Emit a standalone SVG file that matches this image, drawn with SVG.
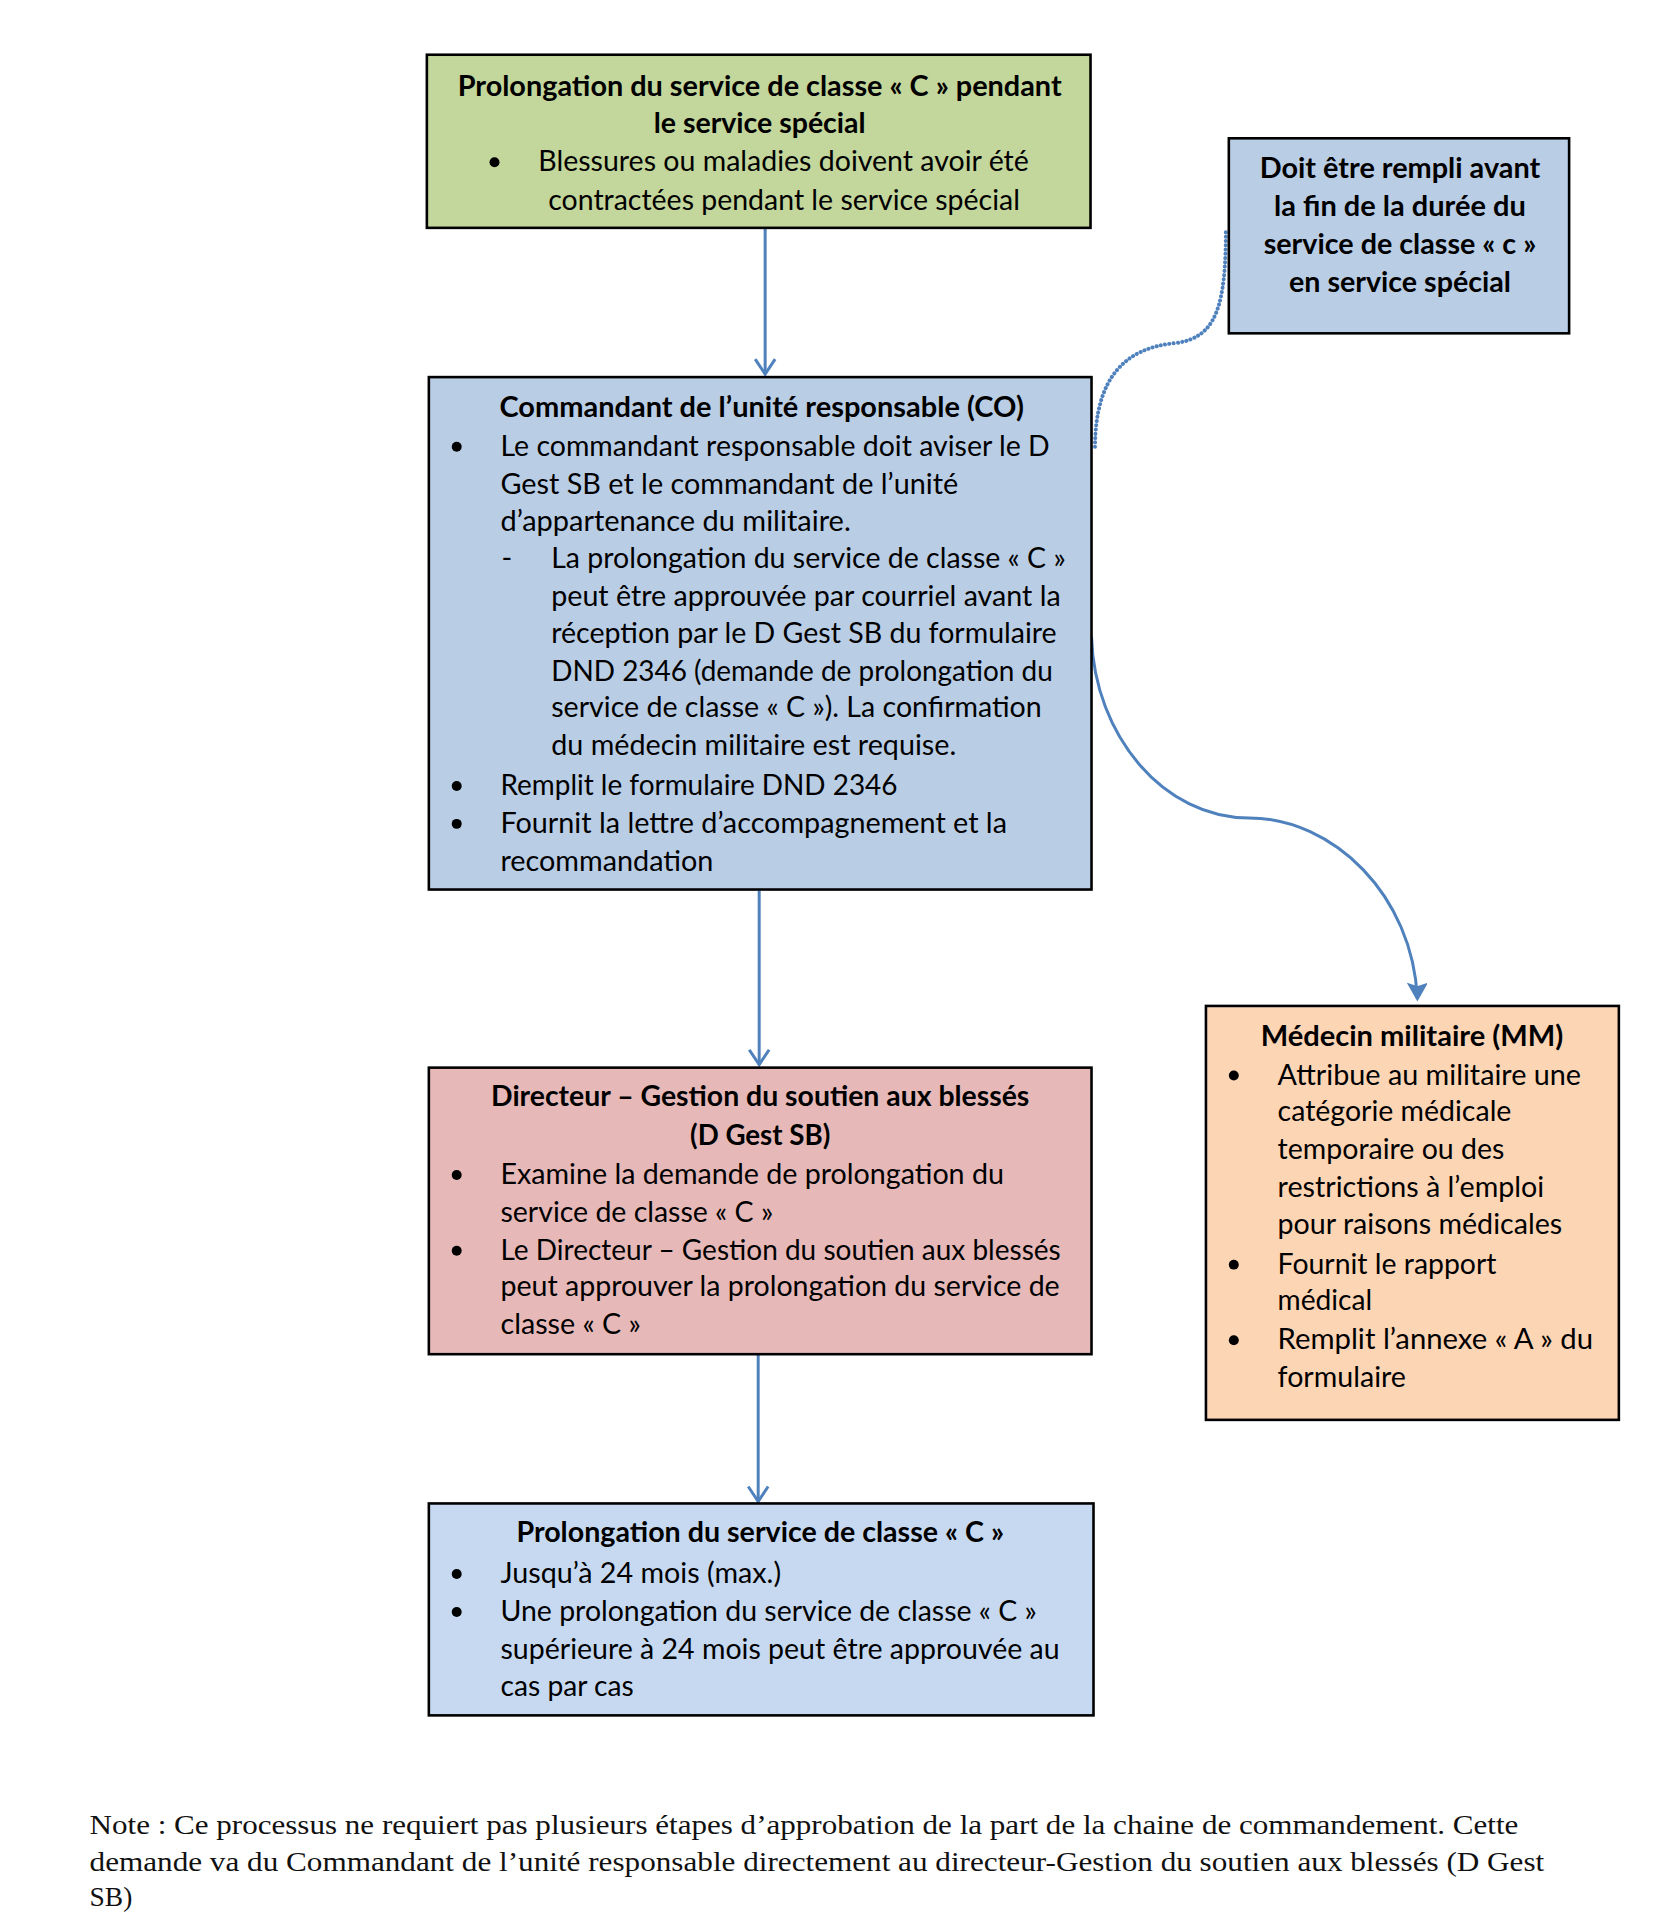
<svg xmlns="http://www.w3.org/2000/svg" width="1661" height="1919" viewBox="0 0 1661 1919">
<style>
.box{stroke:#000;stroke-width:2.6}
.t{font-family:Lato,"Open Sans","Liberation Sans",sans-serif;font-size:29px;fill:#000}
.b{font-weight:bold}
.c{text-anchor:middle}
.note{font-family:"Liberation Serif","DejaVu Serif",serif;font-size:27px;fill:#111}
.conn{fill:none;stroke:#4f81bd;stroke-width:3}
.dot{fill:none;stroke:#4f81bd;stroke-width:4;stroke-dasharray:0.1 4.2;stroke-linecap:round}
</style>
<defs>
<marker id="open" viewBox="0 0 20 24" refX="18" refY="12" markerWidth="20" markerHeight="24" markerUnits="userSpaceOnUse" orient="auto">
<path d="M3,2 L18,12 L3,22" fill="none" stroke="#4f81bd" stroke-width="3" stroke-linejoin="miter"/>
</marker>
<marker id="fill" viewBox="0 0 20 20" refX="10" refY="18" markerWidth="20" markerHeight="20" markerUnits="userSpaceOnUse" orient="0">
<path d="M1,3 L10,19 L19,3 L10,6 Z" fill="#4f81bd" stroke="#4f81bd" stroke-width="1.5"/>
</marker>
</defs>
<rect width="1661" height="1919" fill="#fff"/>
<g transform="scale(0.995)">

<g id="connectors">
<line class="conn" x1="769" y1="229" x2="769" y2="376" marker-end="url(#open)"/>
<line class="conn" x1="763" y1="895" x2="763" y2="1070" marker-end="url(#open)"/>
<line class="conn" x1="762" y1="1361" x2="762" y2="1509" marker-end="url(#open)"/>
<path class="conn" d="M1097,640 C1100,740 1170,822 1255,822 C1340,822 1420,900 1424.5,1004" marker-end="url(#fill)"/>
<path class="dot" d="M1100.5,449 C1101,380 1130,350 1180,345 C1222,340 1232,310 1232,230"/>
</g>

<g id="node-prolongation-special">
<rect class="box" x="429" y="55" width="667" height="174" fill="#c3d69b"/>
<text class="t b c" x="763.5" y="96" textLength="607" lengthAdjust="spacingAndGlyphs">Prolongation du service de classe « C » pendant</text>
<text class="t b c" x="763.5" y="134" textLength="213" lengthAdjust="spacingAndGlyphs">le service spécial</text>
<circle cx="497" cy="163" r="5"/>
<text class="t" x="541" y="172" textLength="493" lengthAdjust="spacingAndGlyphs">Blessures ou maladies doivent avoir été</text>
<text class="t" x="551" y="211" textLength="474" lengthAdjust="spacingAndGlyphs">contractées pendant le service spécial</text>
</g>

<g id="node-delai">
<rect class="box" x="1235" y="139" width="342" height="196" fill="#b9cde5"/>
<text class="t b c" x="1407" y="179" textLength="282" lengthAdjust="spacingAndGlyphs">Doit être rempli avant</text>
<text class="t b c" x="1407" y="217" textLength="253" lengthAdjust="spacingAndGlyphs">la fin de la durée du</text>
<text class="t b c" x="1407" y="255" textLength="274" lengthAdjust="spacingAndGlyphs">service de classe « c »</text>
<text class="t b c" x="1407" y="293" textLength="223" lengthAdjust="spacingAndGlyphs">en service spécial</text>
</g>

<g id="node-co">
<rect class="box" x="431" y="379" width="666" height="515" fill="#b9cde5"/>
<text class="t b" x="502" y="419" textLength="527" lengthAdjust="spacingAndGlyphs">Commandant de l’unité responsable (CO)</text>
<circle cx="459" cy="449" r="5"/>
<text class="t" x="503" y="458" textLength="552" lengthAdjust="spacingAndGlyphs">Le commandant responsable doit aviser le D</text>
<text class="t" x="503" y="496" textLength="460" lengthAdjust="spacingAndGlyphs">Gest SB  et le commandant de l’unité</text>
<text class="t" x="503" y="534" textLength="352" lengthAdjust="spacingAndGlyphs">d’appartenance du militaire.</text>
<text class="t" x="504" y="571">-</text>
<text class="t" x="554" y="571" textLength="517" lengthAdjust="spacingAndGlyphs">La prolongation du service de classe « C »</text>
<text class="t" x="554" y="609" textLength="512" lengthAdjust="spacingAndGlyphs">peut être approuvée par courriel avant la</text>
<text class="t" x="554" y="646" textLength="508" lengthAdjust="spacingAndGlyphs">réception par le D Gest SB  du formulaire</text>
<text class="t" x="554" y="684" textLength="504" lengthAdjust="spacingAndGlyphs">DND 2346 (demande de prolongation du</text>
<text class="t" x="554" y="721" textLength="493" lengthAdjust="spacingAndGlyphs">service de classe « C »). La confirmation</text>
<text class="t" x="554" y="759" textLength="407" lengthAdjust="spacingAndGlyphs">du médecin militaire est requise.</text>
<circle cx="459" cy="790" r="5"/>
<text class="t" x="503" y="799" textLength="399" lengthAdjust="spacingAndGlyphs">Remplit le formulaire DND 2346</text>
<circle cx="459" cy="828" r="5"/>
<text class="t" x="503" y="837" textLength="509" lengthAdjust="spacingAndGlyphs">Fournit la lettre d’accompagnement et la</text>
<text class="t" x="503" y="875" textLength="214" lengthAdjust="spacingAndGlyphs">recommandation</text>
</g>

<g id="node-dgestsb">
<rect class="box" x="431" y="1073" width="666" height="288" fill="#e6b9b8"/>
<text class="t b c" x="764" y="1112" textLength="541" lengthAdjust="spacingAndGlyphs">Directeur – Gestion du soutien aux blessés</text>
<text class="t b c" x="764" y="1151" textLength="141" lengthAdjust="spacingAndGlyphs">(D Gest SB)</text>
<circle cx="459" cy="1181" r="5"/>
<text class="t" x="503" y="1190" textLength="506" lengthAdjust="spacingAndGlyphs">Examine la demande de prolongation du</text>
<text class="t" x="503" y="1228" textLength="274" lengthAdjust="spacingAndGlyphs">service de classe « C »</text>
<circle cx="459" cy="1257" r="5"/>
<text class="t" x="503" y="1266" textLength="563" lengthAdjust="spacingAndGlyphs">Le Directeur – Gestion du soutien aux blessés</text>
<text class="t" x="503" y="1303" textLength="562" lengthAdjust="spacingAndGlyphs">peut approuver la prolongation du service de</text>
<text class="t" x="503" y="1341" textLength="141" lengthAdjust="spacingAndGlyphs">classe « C »</text>
</g>

<g id="node-prolongation">
<rect class="box" x="431" y="1511" width="668" height="213" fill="#c6d9f1"/>
<text class="t b" x="519" y="1550" textLength="490" lengthAdjust="spacingAndGlyphs">Prolongation du service de classe « C »</text>
<circle cx="459" cy="1582" r="5"/>
<text class="t" x="503" y="1591" textLength="282" lengthAdjust="spacingAndGlyphs">Jusqu’à 24 mois (max.)</text>
<circle cx="459" cy="1620" r="5"/>
<text class="t" x="503" y="1629" textLength="539" lengthAdjust="spacingAndGlyphs">Une prolongation du service de classe « C »</text>
<text class="t" x="503" y="1667" textLength="562" lengthAdjust="spacingAndGlyphs">supérieure à 24 mois peut être approuvée au</text>
<text class="t" x="503" y="1705" textLength="134" lengthAdjust="spacingAndGlyphs">cas par cas</text>
</g>

<g id="node-mm">
<rect class="box" x="1212" y="1011" width="415" height="416" fill="#fcd5b5"/>
<text class="t b" x="1267" y="1051" textLength="304" lengthAdjust="spacingAndGlyphs">Médecin militaire (MM)</text>
<circle cx="1240" cy="1081" r="5"/>
<text class="t" x="1284" y="1090" textLength="305" lengthAdjust="spacingAndGlyphs">Attribue au militaire une</text>
<text class="t" x="1284" y="1127" textLength="235" lengthAdjust="spacingAndGlyphs">catégorie médicale</text>
<text class="t" x="1284" y="1165" textLength="228" lengthAdjust="spacingAndGlyphs">temporaire ou des</text>
<text class="t" x="1284" y="1203" textLength="268" lengthAdjust="spacingAndGlyphs">restrictions à l’emploi</text>
<text class="t" x="1284" y="1240" textLength="286" lengthAdjust="spacingAndGlyphs">pour raisons médicales</text>
<circle cx="1240" cy="1271" r="5"/>
<text class="t" x="1284" y="1280" textLength="220" lengthAdjust="spacingAndGlyphs">Fournit le rapport</text>
<text class="t" x="1284" y="1317" textLength="95" lengthAdjust="spacingAndGlyphs">médical</text>
<circle cx="1240" cy="1347" r="5"/>
<text class="t" x="1284" y="1356" textLength="317" lengthAdjust="spacingAndGlyphs">Remplit l’annexe « A » du</text>
<text class="t" x="1284" y="1394" textLength="129" lengthAdjust="spacingAndGlyphs">formulaire</text>
</g>

<g id="note">
<text class="note" x="90" y="1843" textLength="1436" lengthAdjust="spacingAndGlyphs">Note : Ce processus ne requiert pas plusieurs étapes d’approbation de la part de la chaine de commandement. Cette</text>
<text class="note" x="90" y="1880" textLength="1462" lengthAdjust="spacingAndGlyphs">demande va du Commandant de l’unité responsable directement au directeur-Gestion du soutien aux blessés (D Gest</text>
<text class="note" x="90" y="1916" textLength="43" lengthAdjust="spacingAndGlyphs">SB)</text>
</g>
</g>
</svg>
